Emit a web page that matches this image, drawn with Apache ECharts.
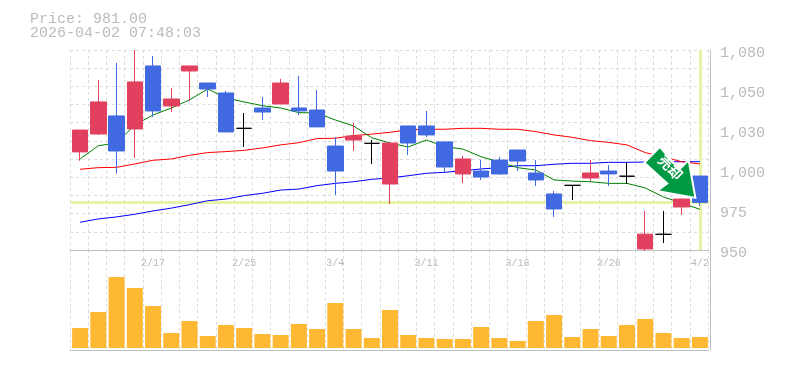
<!DOCTYPE html>
<html><head><meta charset="utf-8">
<style>html,body{margin:0;padding:0;background:#fff}#c{width:785px;height:370px}</style>
<script src="https://cdn.jsdelivr.net/npm/echarts@6/dist/echarts.min.js"></script>
</head><body><div id="c"></div>
<script>
const priceText = 'Price: 981.00';
const stampText = '2026-04-02 07:48:03';
const lastPrice = 981;
const signalText = '売却';
const tickLabels = ['950','975','1,000','1,030','1,050','1,080'];
const categories = ['2/10','2/12','2/13','2/16','2/17','2/18','2/19','2/20','2/24','2/25','2/26','2/27','3/2','3/3','3/4','3/5','3/6','3/9','3/10','3/11','3/12','3/13','3/16','3/17','3/18','3/19','3/23','3/24','3/25','3/26','3/27','3/30','3/31','4/1','4/2'];
// open, close, low, high
const candles = [
[1012.1,1025.9,1006.6,1025.9],[1023.4,1043.9,1022.8,1058.2],[1034.9,1012.7,998.6,1069.4],[1026.6,1056.9,1008.3,1078],[1067.4,1038.1,1034.2,1074],
[1041.3,1045.8,1037.4,1053],[1064.1,1067.4,1044.5,1067.4],[1056.2,1052.3,1047.1,1056.2],[1049.7,1024.7,1024.7,1051],[1027,1027,1015.2,1036.8],
[1040,1037.4,1032.3,1047.1],[1042.6,1056.2,1042.6,1058.9],[1040,1038.1,1035.5,1060.8],[1038.7,1027.9,1027.9,1051.7],[1015.8,1000.2,985.5,1021.5],
[1019.6,1022.1,1012.7,1030.4],[1017.5,1017.5,1004.6,1019.6],[992.2,1017.7,980,1017.7],[1028.5,1017.7,1010.2,1028.5],[1028.5,1022.8,1021.5,1038.1],
[1018.4,1002.7,999.6,1018.4],[998.4,1007.7,992.8,1009.6],[1000.2,996.5,994.7,1007],[1007,998.4,997.8,1009],[1013.3,1006.4,1000.2,1013.3],
[999,994.7,991,1007],[986.1,977,972.2,987.9],[991.4,991.4,982.4,991.4],[995.9,999,994,1007],[1000.2,998.4,991,1003.9],
[997,997,992.2,1005.8],[953.1,961.9,951.9,975.8],[961.8,961.8,956.6,975.8],[978.2,983,973.4,983],[997.1,981,978.8,997.1]];
const maShort = [1007.7,1016,1017.7,1029.1,1035.5,1040,1045.2,1052.3,1046.5,1043.9,1041.5,1040,1037,1036.8,1032.3,1028.5,1021,1017.7,1015.2,1019.6,1015.4,1013.9,1009.1,1005.8,1002.3,1000.8,994.7,994,993.6,992.6,992.6,989.8,984.3,980.6,976.8];
const maMid = [1001.3,1002.3,1002.5,1004.6,1006.9,1007.7,1010,1011.7,1012.3,1013.1,1014.6,1016.5,1017.9,1020.5,1020.7,1022.4,1023.3,1024.5,1026,1026.4,1026.4,1027,1027,1026.4,1026.4,1024.9,1022.8,1021.3,1019.2,1018.1,1016.5,1011.7,1009,1006,1004.6];
const maLong = [969,971,972.2,973.8,975.8,977.5,979.6,982,983,985.1,986.5,988.5,989.1,991.2,992.6,993.6,995.1,995.9,997.3,998.8,999.4,1000.4,1001.5,1002.3,1003.5,1003.5,1004.4,1005,1005,1005.6,1005.6,1005.8,1005.9,1006,1006];
const volumes = [20000,36000,71000,60000,42000,15000,27000,12000,23000,20000,14000,13000,24000,19000,45000,19000,10000,38000,13000,10000,9000,9000,21000,10000,7000,27000,33000,11000,19000,12000,23000,29000,15000,10000,11000];

// The price panel is logarithmic between these two prices.
const priceFloor = 952.5, priceCeil = 1078, gridSteps = 11;
const toAxis = v => gridSteps * Math.log(v / priceFloor) / Math.log(priceCeil / priceFloor);

const gray = '#c0c0c0', dash = '#dcdcdc', txt = '#bbbbbb', mono = '"Liberation Mono", monospace';
const hi = '#e4f3a6';
const arrow = 'path://M15.5 0L0 16L22.8 36.6L12.8 44L51 51L44.2 13.3L34.8 22.6Z';
const xSplit = {show:true, interval:0, lineStyle:{color:dash, type:[3,3], width:1}};
const line = (data, color) => ({type:'line', xAxisIndex:0, yAxisIndex:0, data:data.map(toAxis), showSymbol:false, silent:true, z:2,
  lineStyle:{color, width:1}, itemStyle:{color}});
const hiddenX = {axisTick:{show:false}, axisLine:{show:false}, axisLabel:{show:false}, splitLine:{show:false}};

const chart = echarts.init(document.getElementById('c'), null, {renderer:'canvas'});
chart.setOption({
  animation:false, backgroundColor:'#fff',
  title:[
    {text:priceText, left:30, top:12, padding:0, textStyle:{fontFamily:mono, fontSize:15, fontWeight:'normal', color:txt}},
    {text:stampText, left:30, top:26, padding:0, textStyle:{fontFamily:mono, fontSize:15, fontWeight:'normal', color:txt}}
  ],
  grid:[
    {left:71, width:638, top:50, height:200},
    {left:71, width:638, top:250, height:100},
    {left:70, width:638.2, top:50, height:200},
    {left:70, width:638.2, top:250, height:100}
  ],
  xAxis:[
    {type:'category', gridIndex:0, data:categories, boundaryGap:true, ...hiddenX,
     axisLabel:{interval:(i)=>i%5===4, showMaxLabel:true, margin:8, color:txt, fontFamily:mono, fontSize:10}},
    {type:'category', gridIndex:1, data:categories, boundaryGap:true, ...hiddenX},
    {type:'category', gridIndex:2, data:categories, boundaryGap:true, axisTick:{show:false}, axisLabel:{show:false},
     axisLine:{onZero:false, lineStyle:{color:gray}}, splitLine:xSplit},
    {type:'category', gridIndex:3, data:categories, boundaryGap:true, axisTick:{show:false}, axisLabel:{show:false},
     axisLine:{onZero:false, lineStyle:{color:gray}}, splitLine:xSplit}
  ],
  yAxis:[
    {type:'value', gridIndex:0, position:'left', min:0, max:gridSteps, interval:1, axisLine:{show:false}, axisTick:{show:false}, axisLabel:{show:false}, splitLine:{show:false}},
    {type:'value', gridIndex:0, position:'right', offset:1, min:0, max:5, interval:1, axisLine:{show:true, lineStyle:{color:gray}}, axisTick:{show:false}, splitLine:{show:false},
     axisLabel:{margin:10, color:txt, fontFamily:mono, fontSize:15, verticalAlign:'top', lineHeight:7, formatter:(v)=>tickLabels[v]}},
    {type:'value', gridIndex:1, position:'right', offset:1, min:-2000, max:98000, axisLine:{show:true, lineStyle:{color:gray}}, axisTick:{show:false}, axisLabel:{show:false}, splitLine:{show:false}},
    {type:'value', gridIndex:2, position:'left', min:0, max:gridSteps, interval:1, axisLine:{show:false}, axisTick:{show:false}, axisLabel:{show:false},
     splitLine:{show:true, lineStyle:{color:dash, type:[3,3], width:1}}},
    {type:'value', gridIndex:3, position:'left', min:0, max:1, axisLine:{show:false}, axisTick:{show:false}, axisLabel:{show:false}, splitLine:{show:false}}
  ],
  series:[
    {type:'line', xAxisIndex:0, yAxisIndex:0, data:[], silent:true, z:1,
     markLine:{silent:true, symbol:'none', label:{show:false}, z:1, animation:false,
       lineStyle:{color:hi, width:3, type:'solid'},
       data:[{yAxis:toAxis(lastPrice)},{xAxis:categories[categories.length-1]}]}},
    line(maLong,'#0000ff'), line(maMid,'#ff0000'), line(maShort,'#008000'),
    {type:'candlestick', xAxisIndex:0, yAxisIndex:0, barWidth:16, z:3, clip:false, silent:true,
     data:candles.map(c=>c.map(toAxis)),
     itemStyle:{color:'#e2405f', color0:'#4169e1', borderColor:'#e2405f', borderColor0:'#4169e1', borderColorDoji:'#000000', borderWidth:1},
     markPoint:{silent:true, z:10, animation:false,
       data:[{coord:[categories.length-1, toAxis(lastPrice)], symbol:arrow, symbolKeepAspect:false, symbolSize:[51,51], symbolOffset:[-30,-30],
         itemStyle:{color:'#009944', borderColor:'#ffffff', borderWidth:2},
         label:{show:true, position:'inside', formatter:signalText, rotate:-45, offset:[-3,-4], color:'#fff', fontSize:14, fontWeight:'bold', fontFamily:'"Noto Sans CJK JP", sans-serif'}}]}},
    {type:'bar', xAxisIndex:1, yAxisIndex:2, data:volumes, barWidth:16, silent:true, itemStyle:{color:'#ffb833'}}
  ]
});
</script></body></html>
